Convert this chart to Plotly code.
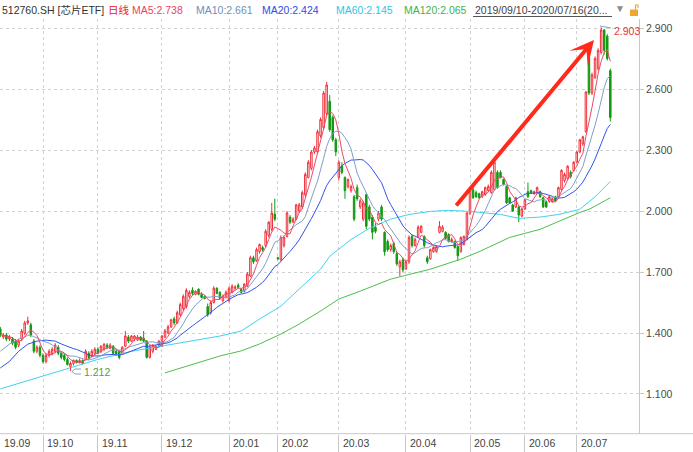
import plotly.graph_objects as go
import pandas as pd

W, H = 693, 452

# ---------------- data ----------------
open_ = [
    1.42, 1.38, 1.39, 1.37, 1.37, 1.36, 1.34, 1.37, 1.40, 1.45,
    1.44, 1.36, 1.31, 1.33, 1.29, 1.26, 1.29, 1.30, 1.31, 1.33,
    1.30, 1.29, 1.27, 1.235, 1.25, 1.265, 1.255, 1.265, 1.27, 1.30,
    1.29, 1.30, 1.32, 1.31, 1.32, 1.34, 1.325, 1.335, 1.31, 1.31,
    1.30, 1.335, 1.38, 1.36, 1.37, 1.365, 1.38, 1.375, 1.36, 1.28,
    1.31, 1.32, 1.34, 1.335, 1.38, 1.40, 1.43, 1.47, 1.45, 1.49,
    1.52, 1.53, 1.58, 1.61, 1.59, 1.615, 1.59, 1.58, 1.53, 1.50,
    1.55, 1.62, 1.60, 1.56, 1.575, 1.56, 1.60, 1.62, 1.635, 1.615,
    1.605, 1.63, 1.68, 1.77, 1.755, 1.80, 1.82, 1.83, 1.88, 1.91,
    1.985, 1.77, 1.76, 1.83, 1.875, 1.97, 1.945, 1.96, 2.00, 2.02,
    2.08, 2.165, 2.21, 2.29, 2.29, 2.37, 2.41, 2.48, 2.54, 2.46,
    2.35, 2.165, 2.22, 2.165, 2.12, 2.10, 2.07, 2.115, 2.02, 1.96,
    2.08, 2.02, 1.97, 1.92, 1.96, 2.02, 1.895, 1.85, 1.81, 1.84,
    1.79, 1.725, 1.76, 1.715, 1.75, 1.875, 1.83, 1.875, 1.895, 1.875,
    1.77, 1.765, 1.80, 1.80, 1.895, 1.90, 1.895, 1.885, 1.85, 1.85,
    1.826, 1.80, 1.835, 1.86, 1.99, 2.105, 2.09, 2.085, 2.07, 2.08,
    2.10, 2.09, 2.105, 2.19, 2.19, 2.155, 2.12, 2.065, 2.03, 2.02,
    2.02, 1.975, 2.01, 2.095, 2.10, 2.085, 2.09, 2.095, 2.065, 2.045,
    2.047, 2.045, 2.07, 2.07, 2.105, 2.15, 2.16, 2.19, 2.20, 2.24,
    2.29, 2.33, 2.39, 2.755, 2.58, 2.655, 2.70, 2.78, 2.89, 2.86, 2.69,
]
high = [
    1.43, 1.40, 1.40, 1.39, 1.38, 1.37, 1.37, 1.42, 1.46, 1.48,
    1.45, 1.37, 1.34, 1.34, 1.30, 1.30, 1.32, 1.33, 1.35, 1.34,
    1.31, 1.30, 1.28, 1.26, 1.27, 1.27, 1.275, 1.27, 1.32, 1.31,
    1.32, 1.33, 1.33, 1.34, 1.35, 1.35, 1.35, 1.34, 1.32, 1.315,
    1.335, 1.41, 1.39, 1.39, 1.39, 1.39, 1.385, 1.41, 1.365, 1.34,
    1.345, 1.34, 1.365, 1.39, 1.42, 1.44, 1.47, 1.48, 1.51, 1.55,
    1.59, 1.62, 1.61, 1.625, 1.61, 1.62, 1.60, 1.585, 1.545, 1.56,
    1.63, 1.625, 1.605, 1.59, 1.61, 1.63, 1.64, 1.635, 1.645, 1.62,
    1.645, 1.70, 1.78, 1.78, 1.82, 1.84, 1.83, 1.91, 1.95, 2.04,
    2.06, 1.775, 1.88, 1.88, 2.00, 1.98, 1.97, 2.035, 2.04, 2.10,
    2.19, 2.25, 2.30, 2.32, 2.40, 2.46, 2.59, 2.635, 2.57, 2.47,
    2.36, 2.25, 2.24, 2.17, 2.16, 2.13, 2.08, 2.13, 2.06, 2.05,
    2.09, 2.03, 1.98, 1.94, 2.00, 2.03, 1.90, 1.86, 1.84, 1.85,
    1.80, 1.76, 1.77, 1.76, 1.88, 1.885, 1.87, 1.93, 1.93, 1.88,
    1.78, 1.815, 1.825, 1.83, 1.95, 1.93, 1.90, 1.89, 1.87, 1.855,
    1.83, 1.875, 1.88, 1.995, 2.11, 2.12, 2.10, 2.09, 2.10, 2.12,
    2.13, 2.20, 2.245, 2.20, 2.20, 2.16, 2.125, 2.07, 2.035, 2.07,
    2.025, 2.015, 2.06, 2.14, 2.105, 2.10, 2.12, 2.10, 2.07, 2.05,
    2.075, 2.065, 2.075, 2.12, 2.205, 2.19, 2.225, 2.20, 2.245, 2.295,
    2.355, 2.37, 2.59, 2.77, 2.68, 2.76, 2.80, 2.903, 2.895, 2.87, 2.70,
]
low = [
    1.38, 1.37, 1.36, 1.36, 1.34, 1.32, 1.33, 1.36, 1.39, 1.44,
    1.38, 1.30, 1.30, 1.28, 1.25, 1.25, 1.28, 1.29, 1.30, 1.29,
    1.27, 1.26, 1.24, 1.212, 1.24, 1.25, 1.25, 1.245, 1.265, 1.27,
    1.28, 1.29, 1.295, 1.30, 1.31, 1.32, 1.32, 1.295, 1.29, 1.27,
    1.295, 1.33, 1.35, 1.355, 1.36, 1.36, 1.36, 1.355, 1.275, 1.275,
    1.30, 1.315, 1.33, 1.33, 1.375, 1.395, 1.425, 1.44, 1.445, 1.48,
    1.51, 1.52, 1.57, 1.585, 1.585, 1.585, 1.57, 1.565, 1.48, 1.49,
    1.545, 1.59, 1.565, 1.55, 1.57, 1.55, 1.595, 1.61, 1.62, 1.595,
    1.60, 1.625, 1.675, 1.74, 1.75, 1.79, 1.80, 1.82, 1.87, 1.90,
    1.95, 1.76, 1.755, 1.82, 1.87, 1.935, 1.94, 1.955, 1.99, 2.01,
    2.07, 2.16, 2.20, 2.28, 2.28, 2.36, 2.40, 2.47, 2.39, 2.34,
    2.27, 2.15, 2.18, 2.06, 2.11, 2.09, 1.95, 2.05, 2.01, 1.95,
    1.91, 1.95, 1.86, 1.89, 1.95, 1.95, 1.78, 1.80, 1.80, 1.79,
    1.73, 1.68, 1.70, 1.71, 1.74, 1.82, 1.825, 1.87, 1.89, 1.82,
    1.74, 1.76, 1.795, 1.795, 1.89, 1.895, 1.86, 1.845, 1.845, 1.815,
    1.755, 1.795, 1.83, 1.855, 1.98, 2.06, 2.065, 2.06, 2.065, 2.075,
    2.095, 2.085, 2.10, 2.11, 2.16, 2.125, 2.035, 2.035, 1.995, 2.015,
    1.945, 1.97, 2.005, 2.065, 2.085, 2.08, 2.085, 2.065, 2.015, 2.015,
    2.04, 2.04, 2.045, 2.065, 2.10, 2.14, 2.155, 2.16, 2.195, 2.235,
    2.285, 2.32, 2.385, 2.57, 2.57, 2.65, 2.69, 2.77, 2.77, 2.74, 2.44,
]
close = [
    1.39, 1.39, 1.37, 1.38, 1.35, 1.33, 1.36, 1.41, 1.45, 1.46,
    1.39, 1.31, 1.33, 1.29, 1.26, 1.29, 1.31, 1.32, 1.34, 1.30,
    1.28, 1.27, 1.245, 1.25, 1.265, 1.255, 1.265, 1.25, 1.31, 1.28,
    1.31, 1.32, 1.30, 1.335, 1.345, 1.33, 1.34, 1.30, 1.295, 1.28,
    1.33, 1.385, 1.36, 1.385, 1.385, 1.38, 1.365, 1.36, 1.28, 1.33,
    1.34, 1.335, 1.36, 1.385, 1.41, 1.43, 1.465, 1.45, 1.50, 1.54,
    1.58, 1.61, 1.60, 1.595, 1.605, 1.59, 1.575, 1.57, 1.49, 1.55,
    1.62, 1.595, 1.57, 1.58, 1.60, 1.62, 1.63, 1.625, 1.625, 1.60,
    1.64, 1.69, 1.77, 1.75, 1.81, 1.835, 1.81, 1.90, 1.945, 1.99,
    1.96, 1.765, 1.87, 1.87, 1.99, 1.945, 1.96, 2.03, 2.03, 2.09,
    2.18, 2.24, 2.29, 2.31, 2.39, 2.45, 2.58, 2.62, 2.40, 2.35,
    2.29, 2.24, 2.19, 2.10, 2.155, 2.12, 1.96, 2.06, 2.05, 2.04,
    1.925, 1.96, 1.895, 1.90, 1.99, 1.96, 1.80, 1.81, 1.83, 1.80,
    1.74, 1.75, 1.71, 1.75, 1.87, 1.83, 1.86, 1.92, 1.925, 1.83,
    1.75, 1.81, 1.82, 1.825, 1.925, 1.92, 1.865, 1.85, 1.86, 1.82,
    1.78, 1.87, 1.875, 1.99, 2.10, 2.065, 2.07, 2.065, 2.095, 2.115,
    2.12, 2.19, 2.24, 2.115, 2.165, 2.13, 2.04, 2.04, 2.00, 2.065,
    1.98, 2.01, 2.055, 2.07, 2.09, 2.095, 2.115, 2.07, 2.02, 2.02,
    2.07, 2.06, 2.05, 2.115, 2.20, 2.18, 2.22, 2.17, 2.24, 2.29,
    2.35, 2.365, 2.585, 2.58, 2.67, 2.75, 2.79, 2.89, 2.79, 2.75, 2.46,
]

# moving-average values that depend on history before the window
ma10_head_idx = [0, 3, 6, 8]
ma10_head = [1.31, 1.345, 1.37, 1.38]
ma20_head_idx = [0, 3, 6, 9, 12, 15, 18]
ma20_head = [1.228, 1.26, 1.31, 1.345, 1.36, 1.365, 1.36]
ma60_idx = [0, 22, 32, 43, 53, 61, 72, 79, 85, 92, 98, 105, 108, 115, 121, 128,
            134, 141, 147, 154, 164, 170, 177, 183, 190, 195, 200]
ma60_val = [1.125, 1.225, 1.27, 1.31, 1.336, 1.36, 1.385, 1.41, 1.469, 1.532, 1.616,
            1.714, 1.777, 1.86, 1.915, 1.96, 1.983, 1.998, 2.003, 1.998, 1.983, 1.964,
            1.97, 1.983, 2.008, 2.07, 2.145]
ma120_idx = [54, 72, 79, 85, 92, 98, 105, 111, 118, 128, 141, 151, 157, 167, 177,
             190, 193, 200]
ma120_val = [1.204, 1.287, 1.312, 1.346, 1.395, 1.444, 1.508, 1.567, 1.606, 1.665,
             1.714, 1.763, 1.80, 1.87, 1.91, 1.993, 2.008, 2.065]

month_start = [0, 14, 32, 53, 75, 91, 111, 133, 154, 172, 189]
month_label = ["19.09", "19.10", "19.11", "19.12", "20.01", "20.02", "20.03",
               "20.04", "20.05", "20.06", "20.07"]
y_ticks = [1.1, 1.4, 1.7, 2.0, 2.3, 2.6, 2.9]

header = [
    ("512760.SH [芯片ETF]", 0, "#333333"),
    ("日线", 106, "#e8202a"),
    ("MA5:2.738", 130, "#e8455c"),
    ("MA10:2.661", 194, "#6f8fb8"),
    ("MA20:2.424", 260, "#2b4ee8"),
    ("MA60:2.145", 334, "#2fc6e4"),
    ("MA120:2.065", 402, "#3cb44b"),
    ("2019/09/10-2020/07/16(20...", 473, "#444444"),
]

# ---------------- figure ----------------
idx = list(range(len(close)))
cs = pd.Series(close, dtype=float)
ma5 = cs.rolling(5, min_periods=1).mean()
ma10 = cs.rolling(10).mean()
ma20 = cs.rolling(20).mean()

FONT = "Liberation Sans, Arial, Noto Sans CJK SC, sans-serif"
RED = "#f0303a"
GREEN = "#129a12"

fig = go.Figure()
fig.add_trace(go.Candlestick(
    x=idx, open=open_, high=high, low=low, close=close,
    increasing=dict(line=dict(color=RED, width=1), fillcolor="white"),
    decreasing=dict(line=dict(color=GREEN, width=1), fillcolor=GREEN),
    whiskerwidth=0, hoverinfo="skip",
))


def line(xs, ys, color):
    fig.add_trace(go.Scatter(x=xs, y=ys, mode="lines",
                             line=dict(color=color, width=1), hoverinfo="skip"))


line(ma120_idx, ma120_val, "#4cbf4c")
line(ma60_idx, ma60_val, "#3fd2ee")
line(ma20_head_idx + idx[19:], ma20_head + list(ma20[19:]), "#3152ec")
line(ma10_head_idx + idx[9:], ma10_head + list(ma10[9:]), "#7e9fc8")
line(idx, list(ma5), "#ec4a66")

X0, X1 = 0.0, 639.0          # plot left/right in px
YT, YB = 19.0, 433.7         # plot top/bottom in px
PX_PER_IDX = 3.05
IDX0 = 0.3
YPX = 203.33                 # px per unit
Y_AT = (2.9, 28.0)

xr = [(X0 - IDX0) / PX_PER_IDX, (X1 - IDX0) / PX_PER_IDX]
yr = [Y_AT[0] - (YB - Y_AT[1]) / YPX, Y_AT[0] + (Y_AT[1] - YT) / YPX]

fig.update_layout(
    width=W, height=H, margin=dict(l=0, r=0, t=0, b=0, autoexpand=False),
    paper_bgcolor="white", plot_bgcolor="white", showlegend=False,
    font=dict(family=FONT, size=11, color="#444444"),
    xaxis=dict(
        domain=[X0 / W, X1 / W], range=xr, tickmode="array",
        tickvals=month_start[1:], showticklabels=False, automargin=False,
        ticks="outside", ticklen=19, tickcolor="#c8c8c8", tickwidth=1,
        showgrid=True, gridcolor="#d2d2d2", griddash="dot", gridwidth=1,
        zeroline=False, showline=False, rangeslider=dict(visible=False),
        fixedrange=True,
    ),
    yaxis=dict(
        domain=[(H - YB) / H, (H - YT) / H], range=yr, side="right",
        tickmode="array", tickvals=y_ticks, automargin=False,
        ticktext=[f"{v:.3f}" for v in y_ticks],
        ticks="outside", ticklen=4, tickcolor="#c8c8c8",
        tickfont=dict(family=FONT, size=10.5, color="#4a4a4a"),
        showline=True, linecolor="#c8c8c8", linewidth=1,
        showgrid=True, gridcolor="#d2d2d2", griddash="dot", gridwidth=1,
        zeroline=False, fixedrange=True,
    ),
)


def px(x):
    return x / W


def py(y):
    return 1 - y / H


ann = []
for t, x, c in header:
    ann.append(dict(text=t, x=px(x), y=py(10), xref="paper", yref="paper",
                    xanchor="left", yanchor="middle", showarrow=False,
                    font=dict(family=FONT, size=10.5, color=c)))
ann.append(dict(text="▼", x=px(613), y=py(9), xref="paper", yref="paper",
                xanchor="left", yanchor="middle", showarrow=False,
                font=dict(family=FONT, size=10, color="#8a8a8a")))
for m, lab in zip(month_start, month_label):
    ann.append(dict(text=lab, x=m, y=py(443), xref="x", yref="paper",
                    xanchor="left", yanchor="middle", xshift=2, showarrow=False,
                    font=dict(family=FONT, size=10.5, color="#444444")))
# extreme value labels
ann.append(dict(text="2.903", x=px(612), y=py(31), xref="paper", yref="paper",
                xanchor="left", yanchor="middle", showarrow=False,
                font=dict(family=FONT, size=10.5, color="#e8303c")))
ann.append(dict(text="1.212", x=px(82), y=py(372), xref="paper", yref="paper",
                xanchor="left", yanchor="middle", showarrow=False,
                font=dict(family=FONT, size=10.5, color="#5f9a3c")))
# big red arrow
ann.append(dict(text="", x=px(594), y=py(40), xref="paper", yref="paper",
                ax=455 - 594, ay=207 - 40, showarrow=True, arrowhead=3,
                arrowsize=1.0, arrowwidth=4, arrowcolor="#ff2a1a", standoff=0))
fig.update_layout(annotations=ann)

shapes = [
    # bottom axis line across full width
    dict(type="line", xref="paper", yref="paper", x0=0, x1=1, y0=py(YB), y1=py(YB),
         line=dict(color="#c8c8c8", width=1)),
    # underline of the date range
    dict(type="line", xref="paper", yref="paper", x0=px(473), x1=px(612),
         y0=py(16.5), y1=py(16.5), line=dict(color="#555555", width=1)),
    # lock icon
    dict(type="rect", xref="paper", yref="paper", x0=px(630), x1=px(638),
         y0=py(16), y1=py(9.5), fillcolor="#f2a531", line=dict(width=0)),
    dict(type="path", xref="paper", yref="paper",
         path=f"M {px(635.5)},{py(9.5)} L {px(635.5)},{py(5)} L {px(638)},{py(5)} L {px(638)},{py(8)}",
         line=dict(color="#f2a531", width=1.2)),
    # leader lines for extreme labels
    dict(type="line", xref="paper", yref="paper", x0=px(600), x1=px(611),
         y0=py(26), y1=py(28), line=dict(color="#7fa3c4", width=1)),
    dict(type="path", xref="paper", yref="paper",
         path=f"M {px(81)},{py(369)} L {px(75)},{py(369)} L {px(72)},{py(371.5)} L {px(75)},{py(374)} L {px(81)},{py(374)}",
         line=dict(color="#7fa3c4", width=1)),
]
fig.update_layout(shapes=shapes)

fig.write_html(
    "out.html",
    config={"displayModeBar": False, "responsive": False},
    post_script="document.body.style.margin='0';document.body.style.padding='0';"
                "document.documentElement.style.overflow='hidden';",
)
